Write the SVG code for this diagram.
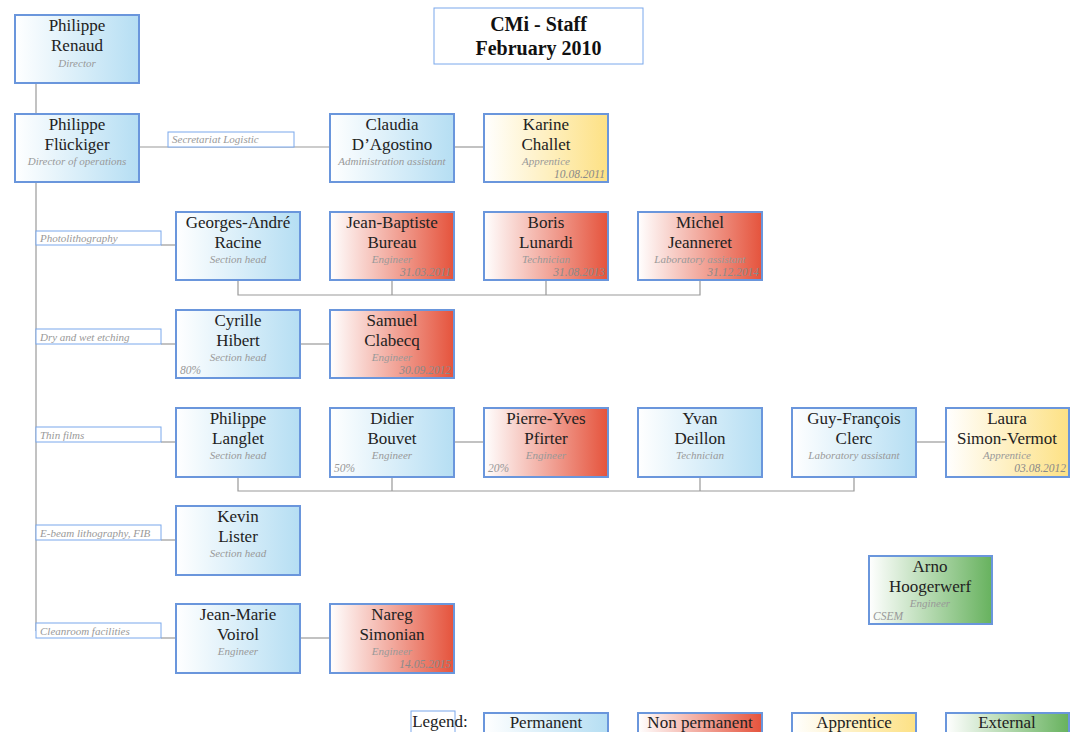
<svg xmlns="http://www.w3.org/2000/svg" width="1071" height="732" viewBox="0 0 1071 732">
<defs>
<linearGradient id="gB" x1="0" y1="0" x2="1" y2="0"><stop offset="0" stop-color="#ffffff"/><stop offset="1" stop-color="#b5def3"/></linearGradient>
<linearGradient id="gR" x1="0" y1="0" x2="1" y2="0"><stop offset="0" stop-color="#ffffff"/><stop offset="1" stop-color="#e5533c"/></linearGradient>
<linearGradient id="gY" x1="0" y1="0" x2="1" y2="0"><stop offset="0" stop-color="#ffffff"/><stop offset="1" stop-color="#fde184"/></linearGradient>
<linearGradient id="gG" x1="0" y1="0" x2="1" y2="0"><stop offset="0" stop-color="#ffffff"/><stop offset="1" stop-color="#67b25e"/></linearGradient>
<style>
.box{stroke:#6a96dc;stroke-width:2}
.pb{fill:url(#gB)}
.pr{fill:url(#gR)}
.py{fill:url(#gY)}
.pg{fill:url(#gG)}
.nm{font-family:"Liberation Serif",serif;font-size:17px;fill:#222;text-anchor:middle}
.rl{font-family:"Liberation Serif",serif;font-size:11px;font-style:italic;fill:#999;text-anchor:middle}
.dt{font-family:"Liberation Serif",serif;font-size:11.5px;font-style:italic;fill:#8a8a8a;text-anchor:end}
.pc{font-family:"Liberation Serif",serif;font-size:11.5px;font-style:italic;fill:#999}
.lab{fill:#fff;stroke:#7aa8ec;stroke-width:1}
.lt{font-family:"Liberation Serif",serif;font-size:11px;font-style:italic;fill:#999}
.ln{stroke:#999;stroke-width:1.2;fill:none}
.ttl{font-family:"Liberation Serif",serif;font-size:20px;font-weight:bold;fill:#111;text-anchor:middle}
.lg{font-family:"Liberation Serif",serif;font-size:17px;fill:#222;text-anchor:middle}
</style>
</defs>
<rect width="1071" height="732" fill="#fff"/>

<g id="connectors">
<path class="ln" d="M36 83V631"/>
<path class="ln" d="M139 147H330"/>
<path class="ln" d="M454 147H484"/>
<path class="ln" d="M161 245H176"/>
<path class="ln" d="M238 280V295H700V280M392 280V295M546 280V295"/>
<path class="ln" d="M161 344H176"/>
<path class="ln" d="M300 344H330"/>
<path class="ln" d="M161 442H176"/>
<path class="ln" d="M454 442H484"/>
<path class="ln" d="M916 442H946"/>
<path class="ln" d="M238 477V491H854V477M392 477V491M700 477V491"/>
<path class="ln" d="M161 540H176"/>
<path class="ln" d="M161 638H176"/>
<path class="ln" d="M300 638H330"/>
</g>

<g id="title">
<rect x="434" y="8" width="209" height="56" fill="#fff" stroke="#7aa8ec" stroke-width="1"/>
<text class="ttl" x="538.5" y="31">CMi - Staff</text>
<text class="ttl" x="538.5" y="55">February 2010</text>
</g>

<g id="labels">
<g id="lab-secretariat"><rect class="lab" x="168" y="132" width="126" height="15"/><text class="lt" x="172" y="143">Secretariat Logistic</text></g>
<g id="lab-photo"><rect class="lab" x="36" y="231" width="125" height="14"/><text class="lt" x="40" y="242">Photolithography</text></g>
<g id="lab-etch"><rect class="lab" x="36" y="329" width="125" height="15"/><text class="lt" x="40" y="341">Dry and wet etching</text></g>
<g id="lab-thin"><rect class="lab" x="36" y="427" width="125" height="15"/><text class="lt" x="40" y="439">Thin films</text></g>
<g id="lab-ebeam"><rect class="lab" x="36" y="525" width="125" height="15"/><text class="lt" x="40" y="537">E-beam lithography, FIB</text></g>
<g id="lab-clean"><rect class="lab" x="36" y="623" width="125" height="15"/><text class="lt" x="40" y="635">Cleanroom facilities</text></g>
</g>

<g id="n-renaud"><rect class="box pb" x="15" y="15" width="124" height="68"/><text class="nm" x="77" y="31">Philippe</text><text class="nm" x="77" y="51">Renaud</text><text class="rl" x="77" y="67">Director</text></g>
<g id="n-fluckiger"><rect class="box pb" x="15" y="114" width="124" height="68"/><text class="nm" x="77" y="130">Philippe</text><text class="nm" x="77" y="150">Flückiger</text><text class="rl" x="77" y="165">Director of operations</text></g>
<g id="n-dagostino"><rect class="box pb" x="330" y="114" width="124" height="68"/><text class="nm" x="392" y="130">Claudia</text><text class="nm" x="392" y="150">D’Agostino</text><text class="rl" x="392" y="165">Administration assistant</text></g>
<g id="n-challet"><rect class="box py" x="484" y="114" width="124" height="68"/><text class="nm" x="546" y="130">Karine</text><text class="nm" x="546" y="150">Challet</text><text class="rl" x="546" y="165">Apprentice</text><text class="dt" x="605" y="178">10.08.2011</text></g>

<g id="n-racine"><rect class="box pb" x="176" y="212" width="124" height="68"/><text class="nm" x="238" y="228">Georges-André</text><text class="nm" x="238" y="248">Racine</text><text class="rl" x="238" y="263">Section head</text></g>
<g id="n-bureau"><rect class="box pr" x="330" y="212" width="124" height="68"/><text class="nm" x="392" y="228">Jean-Baptiste</text><text class="nm" x="392" y="248">Bureau</text><text class="rl" x="392" y="263">Engineer</text><text class="dt" x="451" y="276">31.03.2011</text></g>
<g id="n-lunardi"><rect class="box pr" x="484" y="212" width="124" height="68"/><text class="nm" x="546" y="228">Boris</text><text class="nm" x="546" y="248">Lunardi</text><text class="rl" x="546" y="263">Technician</text><text class="dt" x="605" y="276">31.08.2013</text></g>
<g id="n-jeanneret"><rect class="box pr" x="638" y="212" width="124" height="68"/><text class="nm" x="700" y="228">Michel</text><text class="nm" x="700" y="248">Jeanneret</text><text class="rl" x="700" y="263">Laboratory assistant</text><text class="dt" x="759" y="276">31.12.2014</text></g>

<g id="n-hibert"><rect class="box pb" x="176" y="310" width="124" height="68"/><text class="nm" x="238" y="326">Cyrille</text><text class="nm" x="238" y="346">Hibert</text><text class="rl" x="238" y="361">Section head</text><text class="pc" x="180" y="374">80%</text></g>
<g id="n-clabecq"><rect class="box pr" x="330" y="310" width="124" height="68"/><text class="nm" x="392" y="326">Samuel</text><text class="nm" x="392" y="346">Clabecq</text><text class="rl" x="392" y="361">Engineer</text><text class="dt" x="451" y="374">30.09.2012</text></g>

<g id="n-langlet"><rect class="box pb" x="176" y="408" width="124" height="69"/><text class="nm" x="238" y="424">Philippe</text><text class="nm" x="238" y="444">Langlet</text><text class="rl" x="238" y="459">Section head</text></g>
<g id="n-bouvet"><rect class="box pb" x="330" y="408" width="124" height="69"/><text class="nm" x="392" y="424">Didier</text><text class="nm" x="392" y="444">Bouvet</text><text class="rl" x="392" y="459">Engineer</text><text class="pc" x="334" y="472">50%</text></g>
<g id="n-pfirter"><rect class="box pr" x="484" y="408" width="124" height="69"/><text class="nm" x="546" y="424">Pierre-Yves</text><text class="nm" x="546" y="444">Pfirter</text><text class="rl" x="546" y="459">Engineer</text><text class="pc" x="488" y="472">20%</text></g>
<g id="n-deillon"><rect class="box pb" x="638" y="408" width="124" height="69"/><text class="nm" x="700" y="424">Yvan</text><text class="nm" x="700" y="444">Deillon</text><text class="rl" x="700" y="459">Technician</text></g>
<g id="n-clerc"><rect class="box pb" x="792" y="408" width="124" height="69"/><text class="nm" x="854" y="424">Guy-François</text><text class="nm" x="854" y="444">Clerc</text><text class="rl" x="854" y="459">Laboratory assistant</text></g>
<g id="n-simonvermot"><rect class="box py" x="946" y="408" width="123" height="69"/><text class="nm" x="1007" y="424">Laura</text><text class="nm" x="1007" y="444">Simon-Vermot</text><text class="rl" x="1007" y="459">Apprentice</text><text class="dt" x="1066" y="472">03.08.2012</text></g>

<g id="n-lister"><rect class="box pb" x="176" y="506" width="124" height="69"/><text class="nm" x="238" y="522">Kevin</text><text class="nm" x="238" y="542">Lister</text><text class="rl" x="238" y="557">Section head</text></g>

<g id="n-voirol"><rect class="box pb" x="176" y="604" width="124" height="69"/><text class="nm" x="238" y="620">Jean-Marie</text><text class="nm" x="238" y="640">Voirol</text><text class="rl" x="238" y="655">Engineer</text></g>
<g id="n-simonian"><rect class="box pr" x="330" y="604" width="124" height="69"/><text class="nm" x="392" y="620">Nareg</text><text class="nm" x="392" y="640">Simonian</text><text class="rl" x="392" y="655">Engineer</text><text class="dt" x="451" y="668">14.05.2015</text></g>

<g id="n-hoogerwerf"><rect class="box pg" x="869" y="556" width="123" height="68"/><text class="nm" x="930" y="572">Arno</text><text class="nm" x="930" y="592">Hoogerwerf</text><text class="rl" x="930" y="607">Engineer</text><text class="pc" x="873" y="620">CSEM</text></g>

<g id="legend">
<rect x="411" y="711" width="44" height="30" fill="#fff" stroke="#7aa8ec" stroke-width="1"/>
<text class="lg" x="440" y="727">Legend:</text>
<rect class="box pb" x="484" y="713" width="124" height="30"/><text class="lg" x="546" y="728">Permanent</text>
<rect class="box pr" x="638" y="713" width="124" height="30"/><text class="lg" x="700" y="728">Non permanent</text>
<rect class="box py" x="792" y="713" width="124" height="30"/><text class="lg" x="854" y="728">Apprentice</text>
<rect class="box pg" x="946" y="713" width="123" height="30"/><text class="lg" x="1007" y="728">External</text>
</g>
</svg>
